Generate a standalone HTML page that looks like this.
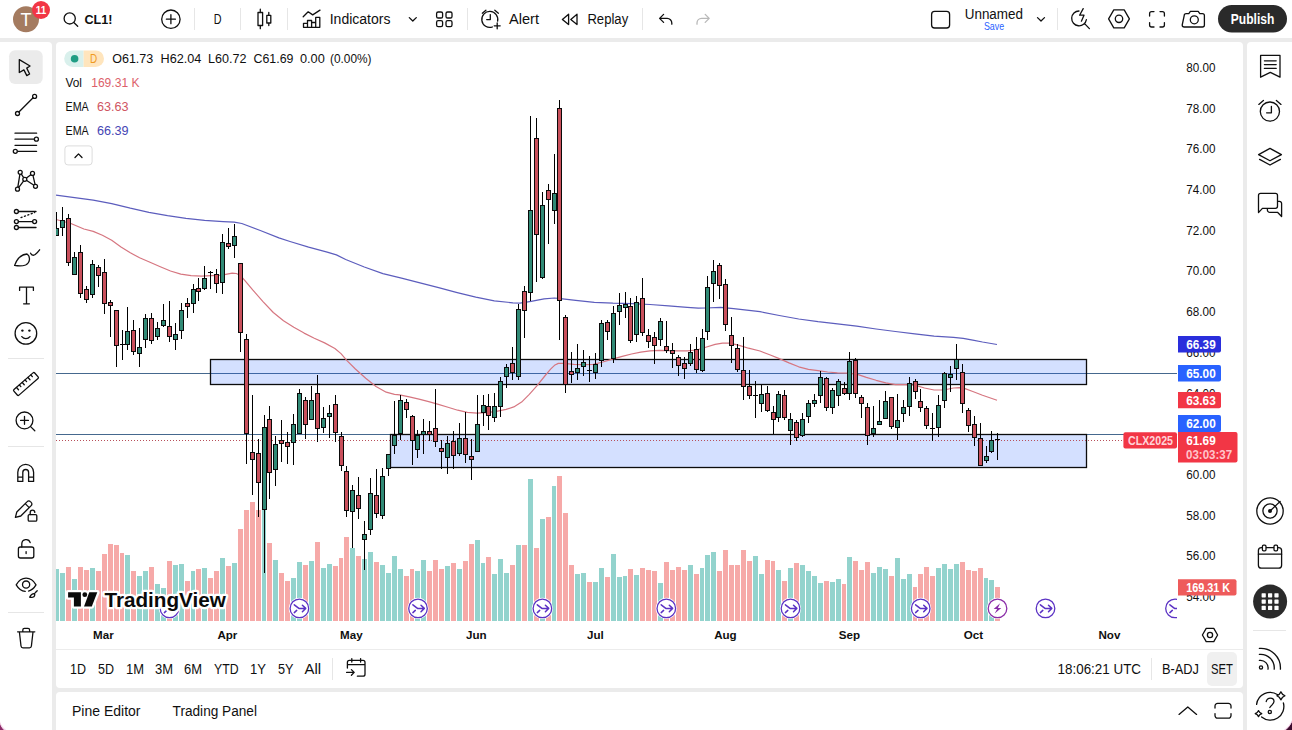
<!DOCTYPE html>
<html><head><meta charset="utf-8"><title>CL1! chart</title>
<style>
html,body{margin:0;padding:0;}
body{width:1292px;height:730px;overflow:hidden;background:#ebebeb;font-family:"Liberation Sans",sans-serif;}
svg{display:block;position:absolute;left:0;top:0;}
text{font-family:"Liberation Sans",sans-serif;fill:#0f0f0f;}
.ic{fill:none;stroke:#0f0f0f;stroke-width:1.3;stroke-linecap:round;stroke-linejoin:round;}
.sep{stroke:#e6e6e6;stroke-width:1;}
</style></head><body>
<svg width="1292" height="730" viewBox="0 0 1292 730">
<defs><clipPath id="cc"><rect x="56" y="42" width="1121" height="579"/></clipPath></defs>
<!-- panels -->
<rect x="0" y="0" width="1292" height="38" fill="#fff"/>
<path d="M0 42H48a4 4 0 0 1 4 4V730H0Z" fill="#fff"/>
<rect x="56" y="42" width="1187" height="646" rx="4" fill="#fff"/>
<path d="M56 730V696a4 4 0 0 1 4-4H1239a4 4 0 0 1 4 4V730Z" fill="#fff"/>
<path d="M1292 42H1251a4 4 0 0 0-4 4V730H1292Z" fill="#fff"/>
<g clip-path="url(#cc)" shape-rendering="crispEdges">
<rect x="54" y="569.0" width="5" height="52.0" fill="#93d3cd"/>
<rect x="60" y="573.0" width="5" height="48.0" fill="#93d3cd"/>
<rect x="66" y="567.1" width="5" height="53.9" fill="#f6a9a8"/>
<rect x="72" y="579.2" width="5" height="41.8" fill="#93d3cd"/>
<rect x="78" y="567.1" width="5" height="53.9" fill="#f6a9a8"/>
<rect x="84" y="570.0" width="5" height="51.0" fill="#f6a9a8"/>
<rect x="90" y="568.0" width="5" height="53.0" fill="#93d3cd"/>
<rect x="96" y="570.9" width="5" height="50.1" fill="#f6a9a8"/>
<rect x="102" y="553.9" width="5" height="67.1" fill="#f6a9a8"/>
<rect x="108" y="544.1" width="5" height="76.9" fill="#f6a9a8"/>
<rect x="114" y="545.0" width="5" height="76.0" fill="#f6a9a8"/>
<rect x="120" y="552.9" width="4" height="68.1" fill="#f6a9a8"/>
<rect x="125" y="555.2" width="5" height="65.8" fill="#93d3cd"/>
<rect x="131" y="570.9" width="5" height="50.1" fill="#f6a9a8"/>
<rect x="137" y="575.9" width="5" height="45.1" fill="#93d3cd"/>
<rect x="143" y="570.9" width="5" height="50.1" fill="#93d3cd"/>
<rect x="149" y="567.1" width="5" height="53.9" fill="#f6a9a8"/>
<rect x="155" y="584.0" width="5" height="37.0" fill="#93d3cd"/>
<rect x="161" y="588.0" width="5" height="33.0" fill="#93d3cd"/>
<rect x="167" y="561.0" width="5" height="60.0" fill="#f6a9a8"/>
<rect x="173" y="565.0" width="5" height="56.0" fill="#93d3cd"/>
<rect x="179" y="564.0" width="5" height="57.0" fill="#93d3cd"/>
<rect x="185" y="581.1" width="5" height="39.9" fill="#f6a9a8"/>
<rect x="191" y="570.9" width="4" height="50.1" fill="#93d3cd"/>
<rect x="196" y="569.0" width="5" height="52.0" fill="#f6a9a8"/>
<rect x="202" y="568.0" width="5" height="53.0" fill="#93d3cd"/>
<rect x="208" y="578.0" width="5" height="43.0" fill="#f6a9a8"/>
<rect x="214" y="570.9" width="5" height="50.1" fill="#f6a9a8"/>
<rect x="220" y="558.1" width="5" height="62.9" fill="#93d3cd"/>
<rect x="226" y="566.1" width="5" height="54.9" fill="#f6a9a8"/>
<rect x="232" y="563.1" width="5" height="57.9" fill="#93d3cd"/>
<rect x="238" y="528.9" width="5" height="92.1" fill="#f6a9a8"/>
<rect x="244" y="510.1" width="5" height="110.9" fill="#f6a9a8"/>
<rect x="250" y="502.0" width="5" height="119.0" fill="#f6a9a8"/>
<rect x="256" y="510.1" width="5" height="110.9" fill="#f6a9a8"/>
<rect x="262" y="507.5" width="4" height="113.5" fill="#93d3cd"/>
<rect x="267" y="542.9" width="5" height="78.1" fill="#f6a9a8"/>
<rect x="273" y="560.0" width="5" height="61.0" fill="#93d3cd"/>
<rect x="279" y="573.0" width="5" height="48.0" fill="#f6a9a8"/>
<rect x="285" y="581.0" width="5" height="40.0" fill="#f6a9a8"/>
<rect x="291" y="577.8" width="5" height="43.2" fill="#93d3cd"/>
<rect x="297" y="562.0" width="5" height="59.0" fill="#93d3cd"/>
<rect x="303" y="565.0" width="5" height="56.0" fill="#f6a9a8"/>
<rect x="309" y="561.0" width="5" height="60.0" fill="#93d3cd"/>
<rect x="315" y="541.7" width="5" height="79.3" fill="#f6a9a8"/>
<rect x="321" y="567.8" width="5" height="53.2" fill="#93d3cd"/>
<rect x="327" y="564.0" width="5" height="57.0" fill="#93d3cd"/>
<rect x="333" y="565.9" width="5" height="55.1" fill="#f6a9a8"/>
<rect x="339" y="557.7" width="4" height="63.3" fill="#f6a9a8"/>
<rect x="344" y="537.0" width="5" height="84.0" fill="#f6a9a8"/>
<rect x="350" y="548.0" width="5" height="73.0" fill="#93d3cd"/>
<rect x="356" y="556.1" width="5" height="64.9" fill="#f6a9a8"/>
<rect x="362" y="559.0" width="5" height="62.0" fill="#93d3cd"/>
<rect x="368" y="551.9" width="5" height="69.1" fill="#93d3cd"/>
<rect x="374" y="561.9" width="5" height="59.1" fill="#f6a9a8"/>
<rect x="380" y="565.0" width="5" height="56.0" fill="#93d3cd"/>
<rect x="386" y="573.0" width="5" height="48.0" fill="#93d3cd"/>
<rect x="392" y="556.1" width="5" height="64.9" fill="#93d3cd"/>
<rect x="398" y="569.2" width="5" height="51.8" fill="#93d3cd"/>
<rect x="404" y="575.9" width="5" height="45.1" fill="#f6a9a8"/>
<rect x="410" y="569.2" width="4" height="51.8" fill="#f6a9a8"/>
<rect x="415" y="571.0" width="5" height="50.0" fill="#93d3cd"/>
<rect x="421" y="560.2" width="5" height="60.8" fill="#93d3cd"/>
<rect x="427" y="570.8" width="5" height="50.2" fill="#f6a9a8"/>
<rect x="433" y="560.2" width="5" height="60.8" fill="#f6a9a8"/>
<rect x="439" y="569.2" width="5" height="51.8" fill="#f6a9a8"/>
<rect x="445" y="566.2" width="5" height="54.8" fill="#93d3cd"/>
<rect x="451" y="563.0" width="5" height="58.0" fill="#f6a9a8"/>
<rect x="457" y="569.2" width="5" height="51.8" fill="#93d3cd"/>
<rect x="463" y="560.9" width="5" height="60.1" fill="#f6a9a8"/>
<rect x="469" y="543.9" width="5" height="77.1" fill="#f6a9a8"/>
<rect x="475" y="540.1" width="5" height="80.9" fill="#93d3cd"/>
<rect x="481" y="563.0" width="4" height="58.0" fill="#93d3cd"/>
<rect x="486" y="557.0" width="5" height="64.0" fill="#f6a9a8"/>
<rect x="492" y="574.0" width="5" height="47.0" fill="#93d3cd"/>
<rect x="498" y="559.2" width="5" height="61.8" fill="#93d3cd"/>
<rect x="504" y="573.0" width="5" height="48.0" fill="#93d3cd"/>
<rect x="510" y="564.9" width="5" height="56.1" fill="#f6a9a8"/>
<rect x="516" y="544.9" width="5" height="76.1" fill="#93d3cd"/>
<rect x="522" y="544.9" width="5" height="76.1" fill="#f6a9a8"/>
<rect x="528" y="479.1" width="5" height="141.9" fill="#93d3cd"/>
<rect x="534" y="547.9" width="5" height="73.1" fill="#f6a9a8"/>
<rect x="540" y="519.3" width="5" height="101.7" fill="#93d3cd"/>
<rect x="546" y="517.1" width="5" height="103.9" fill="#f6a9a8"/>
<rect x="552" y="485.9" width="4" height="135.1" fill="#93d3cd"/>
<rect x="557" y="475.9" width="5" height="145.1" fill="#f6a9a8"/>
<rect x="563" y="513.1" width="5" height="107.9" fill="#f6a9a8"/>
<rect x="569" y="564.9" width="5" height="56.1" fill="#f6a9a8"/>
<rect x="575" y="574.0" width="5" height="47.0" fill="#93d3cd"/>
<rect x="581" y="573.0" width="5" height="48.0" fill="#93d3cd"/>
<rect x="587" y="582.1" width="5" height="38.9" fill="#f6a9a8"/>
<rect x="593" y="582.1" width="5" height="38.9" fill="#93d3cd"/>
<rect x="599" y="568.1" width="5" height="52.9" fill="#93d3cd"/>
<rect x="605" y="577.2" width="5" height="43.8" fill="#f6a9a8"/>
<rect x="611" y="554.3" width="5" height="66.7" fill="#93d3cd"/>
<rect x="617" y="577.2" width="5" height="43.8" fill="#93d3cd"/>
<rect x="623" y="576.2" width="4" height="44.8" fill="#93d3cd"/>
<rect x="628" y="569.2" width="5" height="51.8" fill="#f6a9a8"/>
<rect x="634" y="575.1" width="5" height="45.9" fill="#93d3cd"/>
<rect x="640" y="568.1" width="5" height="52.9" fill="#f6a9a8"/>
<rect x="646" y="570.2" width="5" height="50.8" fill="#f6a9a8"/>
<rect x="652" y="571.3" width="5" height="49.7" fill="#f6a9a8"/>
<rect x="658" y="583.2" width="5" height="37.8" fill="#93d3cd"/>
<rect x="664" y="561.9" width="5" height="59.1" fill="#f6a9a8"/>
<rect x="670" y="570.2" width="5" height="50.8" fill="#f6a9a8"/>
<rect x="676" y="567.0" width="5" height="54.0" fill="#f6a9a8"/>
<rect x="682" y="570.2" width="5" height="50.8" fill="#f6a9a8"/>
<rect x="688" y="565.1" width="5" height="55.9" fill="#93d3cd"/>
<rect x="694" y="574.0" width="5" height="47.0" fill="#f6a9a8"/>
<rect x="700" y="568.1" width="4" height="52.9" fill="#93d3cd"/>
<rect x="705" y="554.9" width="5" height="66.1" fill="#93d3cd"/>
<rect x="711" y="552.2" width="5" height="68.8" fill="#93d3cd"/>
<rect x="717" y="571.3" width="5" height="49.7" fill="#f6a9a8"/>
<rect x="723" y="550.0" width="5" height="71.0" fill="#f6a9a8"/>
<rect x="729" y="565.1" width="5" height="55.9" fill="#f6a9a8"/>
<rect x="735" y="565.1" width="5" height="55.9" fill="#f6a9a8"/>
<rect x="741" y="550.0" width="5" height="71.0" fill="#f6a9a8"/>
<rect x="747" y="561.3" width="5" height="59.7" fill="#f6a9a8"/>
<rect x="753" y="556.0" width="5" height="65.0" fill="#93d3cd"/>
<rect x="759" y="574.0" width="5" height="47.0" fill="#93d3cd"/>
<rect x="765" y="560.2" width="5" height="60.8" fill="#f6a9a8"/>
<rect x="771" y="561.3" width="4" height="59.7" fill="#f6a9a8"/>
<rect x="776" y="570.2" width="5" height="50.8" fill="#93d3cd"/>
<rect x="782" y="581.0" width="5" height="40.0" fill="#f6a9a8"/>
<rect x="788" y="568.1" width="5" height="52.9" fill="#93d3cd"/>
<rect x="794" y="563.0" width="5" height="58.0" fill="#f6a9a8"/>
<rect x="800" y="565.1" width="5" height="55.9" fill="#93d3cd"/>
<rect x="806" y="571.3" width="5" height="49.7" fill="#93d3cd"/>
<rect x="812" y="576.2" width="5" height="44.8" fill="#93d3cd"/>
<rect x="818" y="583.2" width="5" height="37.8" fill="#93d3cd"/>
<rect x="824" y="581.0" width="5" height="40.0" fill="#f6a9a8"/>
<rect x="830" y="582.1" width="5" height="38.9" fill="#93d3cd"/>
<rect x="836" y="579.1" width="5" height="41.9" fill="#93d3cd"/>
<rect x="842" y="584.2" width="4" height="36.8" fill="#f6a9a8"/>
<rect x="847" y="557.0" width="5" height="64.0" fill="#93d3cd"/>
<rect x="853" y="561.3" width="5" height="59.7" fill="#f6a9a8"/>
<rect x="859" y="570.2" width="5" height="50.8" fill="#f6a9a8"/>
<rect x="865" y="561.9" width="5" height="59.1" fill="#f6a9a8"/>
<rect x="871" y="573.2" width="5" height="47.8" fill="#93d3cd"/>
<rect x="877" y="567.0" width="5" height="54.0" fill="#93d3cd"/>
<rect x="883" y="569.2" width="5" height="51.8" fill="#93d3cd"/>
<rect x="889" y="576.2" width="5" height="44.8" fill="#f6a9a8"/>
<rect x="895" y="558.1" width="5" height="62.9" fill="#93d3cd"/>
<rect x="901" y="579.1" width="5" height="41.9" fill="#93d3cd"/>
<rect x="907" y="574.0" width="5" height="47.0" fill="#93d3cd"/>
<rect x="913" y="587.2" width="4" height="33.8" fill="#f6a9a8"/>
<rect x="918" y="574.0" width="5" height="47.0" fill="#f6a9a8"/>
<rect x="924" y="567.0" width="5" height="54.0" fill="#f6a9a8"/>
<rect x="930" y="576.2" width="5" height="44.8" fill="#f6a9a8"/>
<rect x="936" y="568.1" width="5" height="52.9" fill="#93d3cd"/>
<rect x="942" y="564.1" width="5" height="56.9" fill="#93d3cd"/>
<rect x="948" y="569.2" width="5" height="51.8" fill="#93d3cd"/>
<rect x="954" y="564.1" width="5" height="56.9" fill="#93d3cd"/>
<rect x="960" y="561.9" width="5" height="59.1" fill="#f6a9a8"/>
<rect x="966" y="570.2" width="5" height="50.8" fill="#f6a9a8"/>
<rect x="972" y="571.3" width="5" height="49.7" fill="#f6a9a8"/>
<rect x="978" y="568.1" width="5" height="52.9" fill="#f6a9a8"/>
<rect x="984" y="578.3" width="4" height="42.7" fill="#93d3cd"/>
<rect x="989" y="580.2" width="5" height="40.8" fill="#93d3cd"/>
<rect x="995" y="587.2" width="5" height="33.8" fill="#f6a9a8"/>
</g>
<g clip-path="url(#cc)">
<rect x="56" y="373" width="1122" height="1" fill="#45688e" shape-rendering="crispEdges"/>
<rect x="56" y="434" width="1122" height="1" fill="#45688e" shape-rendering="crispEdges"/>
<rect x="210.5" y="359.5" width="876" height="25" fill="#2962ff" fill-opacity="0.2" stroke="#0c0c0c" stroke-width="1.3"/>
<rect x="390.5" y="434.5" width="696" height="33" fill="#2962ff" fill-opacity="0.2" stroke="#0c0c0c" stroke-width="1.3"/>
<line x1="56" y1="440.5" x2="1124" y2="440.5" stroke="#b8505a" stroke-width="1" stroke-dasharray="1 2" shape-rendering="crispEdges"/>
<path d="M56.0,195.2 L74.6,197.6 L93.2,200.2 L111.7,203.6 L130.3,208.2 L148.9,212.3 L167.5,215.7 L186.0,218.4 L204.6,220.3 L223.2,221.6 L234.3,222.2 L241.8,223.5 L260.3,230.5 L278.9,237.9 L290.0,241.5 L308.6,247.1 L327.2,252.1 L336.4,254.9 L345.7,259.5 L364.3,267.0 L382.9,273.6 L401.5,278.1 L420.0,282.9 L438.6,287.6 L457.2,292.6 L475.8,297.2 L494.3,300.9 L512.9,302.8 L520.0,303.2 L531.1,301.3 L544.1,298.9 L554.4,298.0 L562.7,298.9 L575.7,300.4 L594.3,302.3 L612.9,303.2 L631.5,303.6 L650.0,304.5 L668.6,305.8 L687.2,307.3 L698.3,308.2 L705.8,308.0 L720.6,307.3 L733.6,308.6 L760.0,311.7 L779.3,315.5 L798.7,319.0 L818.0,321.7 L837.4,323.8 L856.7,326.1 L876.1,329.0 L895.4,331.5 L914.8,333.9 L934.1,336.2 L953.5,337.3 L963.2,338.3 L972.8,340.1 L982.5,342.0 L997.0,344.5" fill="none" stroke="#5c5dbd" stroke-width="1.2" stroke-linejoin="round"/>
<path d="M56.0,219.5 L70.9,223.5 L83.9,229.0 L93.2,231.4 L102.4,235.2 L111.7,240.2 L121.0,246.9 L130.3,252.8 L139.6,257.8 L150.0,262.2 L160.3,266.7 L170.5,271.0 L180.8,274.1 L191.1,275.7 L201.4,276.2 L211.6,275.7 L221.9,275.1 L232.2,273.1 L236.3,273.5 L240.4,275.5 L244.5,280.1 L252.7,289.9 L263.0,301.6 L273.3,312.5 L283.5,320.7 L293.8,327.3 L304.1,333.1 L314.3,338.2 L324.6,342.9 L334.9,348.5 L341.0,353.6 L347.2,360.8 L355.4,369.0 L365.7,378.3 L376.0,386.5 L386.2,392.2 L394.5,394.3 L399.7,394.9 L409.3,396.9 L419.0,399.2 L428.7,401.7 L438.4,404.4 L448.0,407.3 L457.7,410.2 L467.4,412.3 L477.1,413.1 L486.7,412.7 L496.4,411.4 L506.1,409.4 L513.8,406.9 L521.6,402.1 L529.3,394.3 L537.1,385.6 L544.8,376.0 L550.6,369.2 L554.5,365.3 L558.3,363.4 L564.1,363.4 L573.8,364.3 L583.5,364.7 L593.2,364.4 L602.8,362.0 L612.5,359.1 L622.2,356.3 L631.5,354.0 L640.8,352.2 L650.0,350.9 L659.3,350.4 L668.6,350.6 L677.9,350.9 L687.2,350.9 L696.5,350.0 L705.8,347.2 L715.1,344.4 L722.5,343.1 L729.9,343.1 L739.2,345.4 L748.5,348.2 L760.0,351.0 L769.7,354.8 L779.3,358.6 L789.0,362.9 L798.7,366.8 L808.4,369.3 L818.0,370.6 L827.7,372.0 L837.4,372.9 L847.1,373.1 L856.7,374.1 L866.4,377.4 L876.1,380.3 L885.8,382.8 L895.4,384.6 L905.1,384.6 L914.8,385.1 L924.5,388.0 L934.1,390.0 L943.8,390.0 L953.5,388.0 L959.3,387.7 L965.1,388.6 L972.8,391.5 L982.5,395.2 L997.0,400.2" fill="none" stroke="#d67680" stroke-width="1.2" stroke-linejoin="round"/>
</g>
<g clip-path="url(#cc)" shape-rendering="crispEdges">
<rect x="56" y="212" width="1" height="24" fill="#000"/>
<rect x="54" y="228" width="5" height="8" fill="#0a0a0a"/>
<rect x="55" y="229" width="3" height="6" fill="#318a76"/>
<rect x="62" y="207" width="1" height="29" fill="#000"/>
<rect x="60" y="220" width="5" height="8" fill="#0a0a0a"/>
<rect x="61" y="221" width="3" height="6" fill="#318a76"/>
<rect x="68" y="214" width="1" height="52" fill="#000"/>
<rect x="66" y="218" width="5" height="45" fill="#0a0a0a"/>
<rect x="67" y="219" width="3" height="43" fill="#c9505c"/>
<rect x="74" y="252" width="1" height="23" fill="#000"/>
<rect x="72" y="257" width="5" height="18" fill="#0a0a0a"/>
<rect x="73" y="258" width="3" height="16" fill="#318a76"/>
<rect x="80" y="245" width="1" height="53" fill="#000"/>
<rect x="78" y="252" width="5" height="42" fill="#0a0a0a"/>
<rect x="79" y="253" width="3" height="40" fill="#c9505c"/>
<rect x="86" y="286" width="1" height="17" fill="#000"/>
<rect x="84" y="289" width="5" height="11" fill="#0a0a0a"/>
<rect x="85" y="290" width="3" height="9" fill="#c9505c"/>
<rect x="92" y="260" width="1" height="38" fill="#000"/>
<rect x="90" y="264" width="5" height="31" fill="#0a0a0a"/>
<rect x="91" y="265" width="3" height="29" fill="#318a76"/>
<rect x="98" y="265" width="1" height="22" fill="#000"/>
<rect x="96" y="267" width="5" height="9" fill="#0a0a0a"/>
<rect x="97" y="268" width="3" height="7" fill="#c9505c"/>
<rect x="104" y="259" width="1" height="55" fill="#000"/>
<rect x="102" y="272" width="5" height="32" fill="#0a0a0a"/>
<rect x="103" y="273" width="3" height="30" fill="#c9505c"/>
<rect x="110" y="300" width="1" height="37" fill="#000"/>
<rect x="108" y="302" width="5" height="4" fill="#0a0a0a"/>
<rect x="109" y="303" width="3" height="2" fill="#c9505c"/>
<rect x="116" y="310" width="1" height="57" fill="#000"/>
<rect x="114" y="310" width="5" height="36" fill="#0a0a0a"/>
<rect x="115" y="311" width="3" height="34" fill="#c9505c"/>
<rect x="122" y="330" width="1" height="30" fill="#000"/>
<rect x="120" y="344" width="5" height="1" fill="#000"/>
<rect x="127" y="307" width="1" height="43" fill="#000"/>
<rect x="125" y="331" width="5" height="14" fill="#0a0a0a"/>
<rect x="126" y="332" width="3" height="12" fill="#318a76"/>
<rect x="133" y="320" width="1" height="35" fill="#000"/>
<rect x="131" y="330" width="5" height="22" fill="#0a0a0a"/>
<rect x="132" y="331" width="3" height="20" fill="#c9505c"/>
<rect x="139" y="328" width="1" height="39" fill="#000"/>
<rect x="137" y="347" width="5" height="7" fill="#0a0a0a"/>
<rect x="138" y="348" width="3" height="5" fill="#318a76"/>
<rect x="145" y="314" width="1" height="34" fill="#000"/>
<rect x="143" y="318" width="5" height="22" fill="#0a0a0a"/>
<rect x="144" y="319" width="3" height="20" fill="#318a76"/>
<rect x="151" y="313" width="1" height="31" fill="#000"/>
<rect x="149" y="318" width="5" height="23" fill="#0a0a0a"/>
<rect x="150" y="319" width="3" height="21" fill="#c9505c"/>
<rect x="157" y="322" width="1" height="18" fill="#000"/>
<rect x="155" y="328" width="5" height="9" fill="#0a0a0a"/>
<rect x="156" y="329" width="3" height="7" fill="#318a76"/>
<rect x="163" y="304" width="1" height="23" fill="#000"/>
<rect x="161" y="320" width="5" height="6" fill="#0a0a0a"/>
<rect x="162" y="321" width="3" height="4" fill="#318a76"/>
<rect x="169" y="301" width="1" height="41" fill="#000"/>
<rect x="167" y="326" width="5" height="11" fill="#0a0a0a"/>
<rect x="168" y="327" width="3" height="9" fill="#c9505c"/>
<rect x="175" y="323" width="1" height="27" fill="#000"/>
<rect x="173" y="334" width="5" height="6" fill="#0a0a0a"/>
<rect x="174" y="335" width="3" height="4" fill="#318a76"/>
<rect x="181" y="303" width="1" height="36" fill="#000"/>
<rect x="179" y="310" width="5" height="21" fill="#0a0a0a"/>
<rect x="180" y="311" width="3" height="19" fill="#318a76"/>
<rect x="187" y="298" width="1" height="20" fill="#000"/>
<rect x="185" y="303" width="5" height="4" fill="#0a0a0a"/>
<rect x="186" y="304" width="3" height="2" fill="#c9505c"/>
<rect x="193" y="284" width="1" height="29" fill="#000"/>
<rect x="191" y="289" width="5" height="15" fill="#0a0a0a"/>
<rect x="192" y="290" width="3" height="13" fill="#318a76"/>
<rect x="198" y="278" width="1" height="23" fill="#000"/>
<rect x="196" y="288" width="5" height="4" fill="#0a0a0a"/>
<rect x="197" y="289" width="3" height="2" fill="#c9505c"/>
<rect x="204" y="266" width="1" height="24" fill="#000"/>
<rect x="202" y="278" width="5" height="11" fill="#0a0a0a"/>
<rect x="203" y="279" width="3" height="9" fill="#318a76"/>
<rect x="210" y="271" width="1" height="18" fill="#000"/>
<rect x="208" y="272" width="5" height="1" fill="#000"/>
<rect x="216" y="269" width="1" height="24" fill="#000"/>
<rect x="214" y="274" width="5" height="10" fill="#0a0a0a"/>
<rect x="215" y="275" width="3" height="8" fill="#c9505c"/>
<rect x="222" y="234" width="1" height="60" fill="#000"/>
<rect x="220" y="242" width="5" height="41" fill="#0a0a0a"/>
<rect x="221" y="243" width="3" height="39" fill="#318a76"/>
<rect x="228" y="228" width="1" height="21" fill="#000"/>
<rect x="226" y="243" width="5" height="4" fill="#0a0a0a"/>
<rect x="227" y="244" width="3" height="2" fill="#c9505c"/>
<rect x="234" y="224" width="1" height="34" fill="#000"/>
<rect x="232" y="236" width="5" height="10" fill="#0a0a0a"/>
<rect x="233" y="237" width="3" height="8" fill="#318a76"/>
<rect x="240" y="263" width="1" height="89" fill="#000"/>
<rect x="238" y="263" width="5" height="70" fill="#0a0a0a"/>
<rect x="239" y="264" width="3" height="68" fill="#c9505c"/>
<rect x="246" y="334" width="1" height="130" fill="#000"/>
<rect x="244" y="339" width="5" height="95" fill="#0a0a0a"/>
<rect x="245" y="340" width="3" height="93" fill="#c9505c"/>
<rect x="252" y="395" width="1" height="100" fill="#000"/>
<rect x="250" y="452" width="5" height="8" fill="#0a0a0a"/>
<rect x="251" y="453" width="3" height="6" fill="#c9505c"/>
<rect x="258" y="439" width="1" height="78" fill="#000"/>
<rect x="256" y="453" width="5" height="30" fill="#0a0a0a"/>
<rect x="257" y="454" width="3" height="28" fill="#c9505c"/>
<rect x="264" y="415" width="1" height="158" fill="#000"/>
<rect x="262" y="427" width="5" height="83" fill="#0a0a0a"/>
<rect x="263" y="428" width="3" height="81" fill="#318a76"/>
<rect x="269" y="406" width="1" height="93" fill="#000"/>
<rect x="267" y="419" width="5" height="54" fill="#0a0a0a"/>
<rect x="268" y="420" width="3" height="52" fill="#c9505c"/>
<rect x="275" y="436" width="1" height="50" fill="#000"/>
<rect x="273" y="444" width="5" height="26" fill="#0a0a0a"/>
<rect x="274" y="445" width="3" height="24" fill="#318a76"/>
<rect x="281" y="420" width="1" height="42" fill="#000"/>
<rect x="279" y="440" width="5" height="4" fill="#0a0a0a"/>
<rect x="280" y="441" width="3" height="2" fill="#c9505c"/>
<rect x="287" y="432" width="1" height="32" fill="#000"/>
<rect x="285" y="442" width="5" height="5" fill="#0a0a0a"/>
<rect x="286" y="443" width="3" height="3" fill="#c9505c"/>
<rect x="293" y="414" width="1" height="51" fill="#000"/>
<rect x="291" y="424" width="5" height="19" fill="#0a0a0a"/>
<rect x="292" y="425" width="3" height="17" fill="#318a76"/>
<rect x="299" y="389" width="1" height="45" fill="#000"/>
<rect x="297" y="393" width="5" height="41" fill="#0a0a0a"/>
<rect x="298" y="394" width="3" height="39" fill="#318a76"/>
<rect x="305" y="397" width="1" height="42" fill="#000"/>
<rect x="303" y="400" width="5" height="25" fill="#0a0a0a"/>
<rect x="304" y="401" width="3" height="23" fill="#c9505c"/>
<rect x="311" y="386" width="1" height="34" fill="#000"/>
<rect x="309" y="400" width="5" height="20" fill="#0a0a0a"/>
<rect x="310" y="401" width="3" height="18" fill="#318a76"/>
<rect x="317" y="375" width="1" height="67" fill="#000"/>
<rect x="315" y="393" width="5" height="36" fill="#0a0a0a"/>
<rect x="316" y="394" width="3" height="34" fill="#c9505c"/>
<rect x="323" y="407" width="1" height="26" fill="#000"/>
<rect x="321" y="418" width="5" height="10" fill="#0a0a0a"/>
<rect x="322" y="419" width="3" height="8" fill="#318a76"/>
<rect x="329" y="405" width="1" height="33" fill="#000"/>
<rect x="327" y="413" width="5" height="4" fill="#0a0a0a"/>
<rect x="328" y="414" width="3" height="2" fill="#318a76"/>
<rect x="335" y="395" width="1" height="47" fill="#000"/>
<rect x="333" y="404" width="5" height="29" fill="#0a0a0a"/>
<rect x="334" y="405" width="3" height="27" fill="#c9505c"/>
<rect x="341" y="432" width="1" height="39" fill="#000"/>
<rect x="339" y="436" width="5" height="30" fill="#0a0a0a"/>
<rect x="340" y="437" width="3" height="28" fill="#c9505c"/>
<rect x="346" y="466" width="1" height="51" fill="#000"/>
<rect x="344" y="471" width="5" height="40" fill="#0a0a0a"/>
<rect x="345" y="472" width="3" height="38" fill="#c9505c"/>
<rect x="352" y="485" width="1" height="63" fill="#000"/>
<rect x="350" y="490" width="5" height="22" fill="#0a0a0a"/>
<rect x="351" y="491" width="3" height="20" fill="#318a76"/>
<rect x="358" y="477" width="1" height="42" fill="#000"/>
<rect x="356" y="495" width="5" height="14" fill="#0a0a0a"/>
<rect x="357" y="496" width="3" height="12" fill="#c9505c"/>
<rect x="364" y="521" width="1" height="49" fill="#000"/>
<rect x="362" y="534" width="5" height="6" fill="#0a0a0a"/>
<rect x="363" y="535" width="3" height="4" fill="#318a76"/>
<rect x="370" y="478" width="1" height="57" fill="#000"/>
<rect x="368" y="493" width="5" height="37" fill="#0a0a0a"/>
<rect x="369" y="494" width="3" height="35" fill="#318a76"/>
<rect x="376" y="469" width="1" height="49" fill="#000"/>
<rect x="374" y="495" width="5" height="19" fill="#0a0a0a"/>
<rect x="375" y="496" width="3" height="17" fill="#c9505c"/>
<rect x="382" y="468" width="1" height="51" fill="#000"/>
<rect x="380" y="476" width="5" height="40" fill="#0a0a0a"/>
<rect x="381" y="477" width="3" height="38" fill="#318a76"/>
<rect x="388" y="454" width="1" height="22" fill="#000"/>
<rect x="386" y="454" width="5" height="15" fill="#0a0a0a"/>
<rect x="387" y="455" width="3" height="13" fill="#318a76"/>
<rect x="394" y="401" width="1" height="53" fill="#000"/>
<rect x="392" y="435" width="5" height="11" fill="#0a0a0a"/>
<rect x="393" y="436" width="3" height="9" fill="#318a76"/>
<rect x="400" y="395" width="1" height="45" fill="#000"/>
<rect x="398" y="400" width="5" height="34" fill="#0a0a0a"/>
<rect x="399" y="401" width="3" height="32" fill="#318a76"/>
<rect x="406" y="399" width="1" height="19" fill="#000"/>
<rect x="404" y="402" width="5" height="8" fill="#0a0a0a"/>
<rect x="405" y="403" width="3" height="6" fill="#c9505c"/>
<rect x="412" y="415" width="1" height="50" fill="#000"/>
<rect x="410" y="416" width="5" height="25" fill="#0a0a0a"/>
<rect x="411" y="417" width="3" height="23" fill="#c9505c"/>
<rect x="417" y="430" width="1" height="28" fill="#000"/>
<rect x="415" y="435" width="5" height="15" fill="#0a0a0a"/>
<rect x="416" y="436" width="3" height="13" fill="#318a76"/>
<rect x="423" y="419" width="1" height="35" fill="#000"/>
<rect x="421" y="431" width="5" height="4" fill="#0a0a0a"/>
<rect x="422" y="432" width="3" height="2" fill="#318a76"/>
<rect x="429" y="421" width="1" height="20" fill="#000"/>
<rect x="427" y="431" width="5" height="4" fill="#0a0a0a"/>
<rect x="428" y="432" width="3" height="2" fill="#c9505c"/>
<rect x="435" y="389" width="1" height="58" fill="#000"/>
<rect x="433" y="428" width="5" height="14" fill="#0a0a0a"/>
<rect x="434" y="429" width="3" height="12" fill="#c9505c"/>
<rect x="441" y="440" width="1" height="29" fill="#000"/>
<rect x="439" y="448" width="5" height="4" fill="#0a0a0a"/>
<rect x="440" y="449" width="3" height="2" fill="#c9505c"/>
<rect x="447" y="436" width="1" height="38" fill="#000"/>
<rect x="445" y="443" width="5" height="15" fill="#0a0a0a"/>
<rect x="446" y="444" width="3" height="13" fill="#318a76"/>
<rect x="453" y="431" width="1" height="38" fill="#000"/>
<rect x="451" y="441" width="5" height="15" fill="#0a0a0a"/>
<rect x="452" y="442" width="3" height="13" fill="#c9505c"/>
<rect x="459" y="423" width="1" height="33" fill="#000"/>
<rect x="457" y="438" width="5" height="16" fill="#0a0a0a"/>
<rect x="458" y="439" width="3" height="14" fill="#318a76"/>
<rect x="465" y="412" width="1" height="51" fill="#000"/>
<rect x="463" y="438" width="5" height="17" fill="#0a0a0a"/>
<rect x="464" y="439" width="3" height="15" fill="#c9505c"/>
<rect x="471" y="439" width="1" height="41" fill="#000"/>
<rect x="469" y="456" width="5" height="4" fill="#0a0a0a"/>
<rect x="470" y="457" width="3" height="2" fill="#c9505c"/>
<rect x="477" y="395" width="1" height="57" fill="#000"/>
<rect x="475" y="424" width="5" height="28" fill="#0a0a0a"/>
<rect x="476" y="425" width="3" height="26" fill="#318a76"/>
<rect x="483" y="395" width="1" height="31" fill="#000"/>
<rect x="481" y="405" width="5" height="8" fill="#0a0a0a"/>
<rect x="482" y="406" width="3" height="6" fill="#318a76"/>
<rect x="488" y="394" width="1" height="36" fill="#000"/>
<rect x="486" y="406" width="5" height="10" fill="#0a0a0a"/>
<rect x="487" y="407" width="3" height="8" fill="#c9505c"/>
<rect x="494" y="393" width="1" height="29" fill="#000"/>
<rect x="492" y="406" width="5" height="12" fill="#0a0a0a"/>
<rect x="493" y="407" width="3" height="10" fill="#318a76"/>
<rect x="500" y="377" width="1" height="40" fill="#000"/>
<rect x="498" y="381" width="5" height="26" fill="#0a0a0a"/>
<rect x="499" y="382" width="3" height="24" fill="#318a76"/>
<rect x="506" y="364" width="1" height="24" fill="#000"/>
<rect x="504" y="367" width="5" height="10" fill="#0a0a0a"/>
<rect x="505" y="368" width="3" height="8" fill="#318a76"/>
<rect x="512" y="347" width="1" height="33" fill="#000"/>
<rect x="510" y="363" width="5" height="10" fill="#0a0a0a"/>
<rect x="511" y="364" width="3" height="8" fill="#c9505c"/>
<rect x="518" y="304" width="1" height="76" fill="#000"/>
<rect x="516" y="309" width="5" height="68" fill="#0a0a0a"/>
<rect x="517" y="310" width="3" height="66" fill="#318a76"/>
<rect x="524" y="286" width="1" height="52" fill="#000"/>
<rect x="522" y="291" width="5" height="20" fill="#0a0a0a"/>
<rect x="523" y="292" width="3" height="18" fill="#c9505c"/>
<rect x="530" y="116" width="1" height="185" fill="#000"/>
<rect x="528" y="210" width="5" height="83" fill="#0a0a0a"/>
<rect x="529" y="211" width="3" height="81" fill="#318a76"/>
<rect x="536" y="118" width="1" height="164" fill="#000"/>
<rect x="534" y="138" width="5" height="97" fill="#0a0a0a"/>
<rect x="535" y="139" width="3" height="95" fill="#c9505c"/>
<rect x="542" y="192" width="1" height="87" fill="#000"/>
<rect x="540" y="205" width="5" height="73" fill="#0a0a0a"/>
<rect x="541" y="206" width="3" height="71" fill="#318a76"/>
<rect x="548" y="184" width="1" height="60" fill="#000"/>
<rect x="546" y="190" width="5" height="10" fill="#0a0a0a"/>
<rect x="547" y="191" width="3" height="8" fill="#c9505c"/>
<rect x="554" y="154" width="1" height="70" fill="#000"/>
<rect x="552" y="193" width="5" height="18" fill="#0a0a0a"/>
<rect x="553" y="194" width="3" height="16" fill="#318a76"/>
<rect x="559" y="100" width="1" height="240" fill="#000"/>
<rect x="557" y="108" width="5" height="193" fill="#0a0a0a"/>
<rect x="558" y="109" width="3" height="191" fill="#c9505c"/>
<rect x="565" y="315" width="1" height="78" fill="#000"/>
<rect x="563" y="317" width="5" height="68" fill="#0a0a0a"/>
<rect x="564" y="318" width="3" height="66" fill="#c9505c"/>
<rect x="571" y="352" width="1" height="31" fill="#000"/>
<rect x="569" y="371" width="5" height="4" fill="#0a0a0a"/>
<rect x="570" y="372" width="3" height="2" fill="#c9505c"/>
<rect x="577" y="344" width="1" height="36" fill="#000"/>
<rect x="575" y="368" width="5" height="5" fill="#0a0a0a"/>
<rect x="576" y="369" width="3" height="3" fill="#318a76"/>
<rect x="583" y="350" width="1" height="26" fill="#000"/>
<rect x="581" y="362" width="5" height="5" fill="#0a0a0a"/>
<rect x="582" y="363" width="3" height="3" fill="#318a76"/>
<rect x="589" y="356" width="1" height="26" fill="#000"/>
<rect x="587" y="370" width="5" height="1" fill="#000"/>
<rect x="595" y="353" width="1" height="26" fill="#000"/>
<rect x="593" y="364" width="5" height="9" fill="#0a0a0a"/>
<rect x="594" y="365" width="3" height="7" fill="#318a76"/>
<rect x="601" y="320" width="1" height="47" fill="#000"/>
<rect x="599" y="323" width="5" height="38" fill="#0a0a0a"/>
<rect x="600" y="324" width="3" height="36" fill="#318a76"/>
<rect x="607" y="320" width="1" height="20" fill="#000"/>
<rect x="605" y="322" width="5" height="10" fill="#0a0a0a"/>
<rect x="606" y="323" width="3" height="8" fill="#c9505c"/>
<rect x="613" y="306" width="1" height="57" fill="#000"/>
<rect x="611" y="313" width="5" height="46" fill="#0a0a0a"/>
<rect x="612" y="314" width="3" height="44" fill="#318a76"/>
<rect x="619" y="293" width="1" height="32" fill="#000"/>
<rect x="617" y="305" width="5" height="7" fill="#0a0a0a"/>
<rect x="618" y="306" width="3" height="5" fill="#318a76"/>
<rect x="625" y="292" width="1" height="26" fill="#000"/>
<rect x="623" y="304" width="5" height="4" fill="#0a0a0a"/>
<rect x="624" y="305" width="3" height="2" fill="#318a76"/>
<rect x="630" y="298" width="1" height="45" fill="#000"/>
<rect x="628" y="306" width="5" height="35" fill="#0a0a0a"/>
<rect x="629" y="307" width="3" height="33" fill="#c9505c"/>
<rect x="636" y="296" width="1" height="46" fill="#000"/>
<rect x="634" y="302" width="5" height="33" fill="#0a0a0a"/>
<rect x="635" y="303" width="3" height="31" fill="#318a76"/>
<rect x="642" y="278" width="1" height="58" fill="#000"/>
<rect x="640" y="298" width="5" height="35" fill="#0a0a0a"/>
<rect x="641" y="299" width="3" height="33" fill="#c9505c"/>
<rect x="648" y="329" width="1" height="19" fill="#000"/>
<rect x="646" y="335" width="5" height="7" fill="#0a0a0a"/>
<rect x="647" y="336" width="3" height="5" fill="#c9505c"/>
<rect x="654" y="332" width="1" height="32" fill="#000"/>
<rect x="652" y="337" width="5" height="9" fill="#0a0a0a"/>
<rect x="653" y="338" width="3" height="7" fill="#c9505c"/>
<rect x="660" y="318" width="1" height="28" fill="#000"/>
<rect x="658" y="321" width="5" height="19" fill="#0a0a0a"/>
<rect x="659" y="322" width="3" height="17" fill="#318a76"/>
<rect x="666" y="321" width="1" height="32" fill="#000"/>
<rect x="664" y="346" width="5" height="5" fill="#0a0a0a"/>
<rect x="665" y="347" width="3" height="3" fill="#c9505c"/>
<rect x="672" y="343" width="1" height="25" fill="#000"/>
<rect x="670" y="350" width="5" height="4" fill="#0a0a0a"/>
<rect x="671" y="351" width="3" height="2" fill="#c9505c"/>
<rect x="678" y="355" width="1" height="21" fill="#000"/>
<rect x="676" y="357" width="5" height="9" fill="#0a0a0a"/>
<rect x="677" y="358" width="3" height="7" fill="#c9505c"/>
<rect x="684" y="357" width="1" height="22" fill="#000"/>
<rect x="682" y="363" width="5" height="6" fill="#0a0a0a"/>
<rect x="683" y="364" width="3" height="4" fill="#c9505c"/>
<rect x="690" y="344" width="1" height="22" fill="#000"/>
<rect x="688" y="352" width="5" height="12" fill="#0a0a0a"/>
<rect x="689" y="353" width="3" height="10" fill="#318a76"/>
<rect x="696" y="337" width="1" height="36" fill="#000"/>
<rect x="694" y="349" width="5" height="21" fill="#0a0a0a"/>
<rect x="695" y="350" width="3" height="19" fill="#c9505c"/>
<rect x="702" y="329" width="1" height="43" fill="#000"/>
<rect x="700" y="338" width="5" height="33" fill="#0a0a0a"/>
<rect x="701" y="339" width="3" height="31" fill="#318a76"/>
<rect x="707" y="276" width="1" height="64" fill="#000"/>
<rect x="705" y="287" width="5" height="45" fill="#0a0a0a"/>
<rect x="706" y="288" width="3" height="43" fill="#318a76"/>
<rect x="713" y="260" width="1" height="42" fill="#000"/>
<rect x="711" y="271" width="5" height="13" fill="#0a0a0a"/>
<rect x="712" y="272" width="3" height="11" fill="#318a76"/>
<rect x="719" y="263" width="1" height="36" fill="#000"/>
<rect x="717" y="265" width="5" height="21" fill="#0a0a0a"/>
<rect x="718" y="266" width="3" height="19" fill="#c9505c"/>
<rect x="725" y="279" width="1" height="52" fill="#000"/>
<rect x="723" y="284" width="5" height="41" fill="#0a0a0a"/>
<rect x="724" y="285" width="3" height="39" fill="#c9505c"/>
<rect x="731" y="317" width="1" height="46" fill="#000"/>
<rect x="729" y="335" width="5" height="11" fill="#0a0a0a"/>
<rect x="730" y="336" width="3" height="9" fill="#c9505c"/>
<rect x="737" y="344" width="1" height="28" fill="#000"/>
<rect x="735" y="348" width="5" height="22" fill="#0a0a0a"/>
<rect x="736" y="349" width="3" height="20" fill="#c9505c"/>
<rect x="743" y="337" width="1" height="63" fill="#000"/>
<rect x="741" y="370" width="5" height="17" fill="#0a0a0a"/>
<rect x="742" y="371" width="3" height="15" fill="#c9505c"/>
<rect x="749" y="370" width="1" height="29" fill="#000"/>
<rect x="747" y="386" width="5" height="10" fill="#0a0a0a"/>
<rect x="748" y="387" width="3" height="8" fill="#c9505c"/>
<rect x="755" y="381" width="1" height="37" fill="#000"/>
<rect x="753" y="395" width="5" height="1" fill="#000"/>
<rect x="761" y="385" width="1" height="27" fill="#000"/>
<rect x="759" y="394" width="5" height="10" fill="#0a0a0a"/>
<rect x="760" y="395" width="3" height="8" fill="#318a76"/>
<rect x="767" y="386" width="1" height="26" fill="#000"/>
<rect x="765" y="393" width="5" height="18" fill="#0a0a0a"/>
<rect x="766" y="394" width="3" height="16" fill="#c9505c"/>
<rect x="773" y="406" width="1" height="28" fill="#000"/>
<rect x="771" y="412" width="5" height="8" fill="#0a0a0a"/>
<rect x="772" y="413" width="3" height="6" fill="#c9505c"/>
<rect x="778" y="391" width="1" height="31" fill="#000"/>
<rect x="776" y="394" width="5" height="24" fill="#0a0a0a"/>
<rect x="777" y="395" width="3" height="22" fill="#318a76"/>
<rect x="784" y="390" width="1" height="30" fill="#000"/>
<rect x="782" y="395" width="5" height="23" fill="#0a0a0a"/>
<rect x="783" y="396" width="3" height="21" fill="#c9505c"/>
<rect x="790" y="413" width="1" height="32" fill="#000"/>
<rect x="788" y="419" width="5" height="12" fill="#0a0a0a"/>
<rect x="789" y="420" width="3" height="10" fill="#318a76"/>
<rect x="796" y="420" width="1" height="21" fill="#000"/>
<rect x="794" y="422" width="5" height="16" fill="#0a0a0a"/>
<rect x="795" y="423" width="3" height="14" fill="#c9505c"/>
<rect x="802" y="413" width="1" height="24" fill="#000"/>
<rect x="800" y="419" width="5" height="17" fill="#0a0a0a"/>
<rect x="801" y="420" width="3" height="15" fill="#318a76"/>
<rect x="808" y="400" width="1" height="23" fill="#000"/>
<rect x="806" y="403" width="5" height="14" fill="#0a0a0a"/>
<rect x="807" y="404" width="3" height="12" fill="#318a76"/>
<rect x="814" y="394" width="1" height="13" fill="#000"/>
<rect x="812" y="400" width="5" height="4" fill="#0a0a0a"/>
<rect x="813" y="401" width="3" height="2" fill="#318a76"/>
<rect x="820" y="371" width="1" height="32" fill="#000"/>
<rect x="818" y="377" width="5" height="19" fill="#0a0a0a"/>
<rect x="819" y="378" width="3" height="17" fill="#318a76"/>
<rect x="826" y="377" width="1" height="34" fill="#000"/>
<rect x="824" y="378" width="5" height="30" fill="#0a0a0a"/>
<rect x="825" y="379" width="3" height="28" fill="#c9505c"/>
<rect x="832" y="388" width="1" height="26" fill="#000"/>
<rect x="830" y="390" width="5" height="18" fill="#0a0a0a"/>
<rect x="831" y="391" width="3" height="16" fill="#318a76"/>
<rect x="838" y="379" width="1" height="27" fill="#000"/>
<rect x="836" y="381" width="5" height="15" fill="#0a0a0a"/>
<rect x="837" y="382" width="3" height="13" fill="#318a76"/>
<rect x="844" y="382" width="1" height="13" fill="#000"/>
<rect x="842" y="388" width="5" height="6" fill="#0a0a0a"/>
<rect x="843" y="389" width="3" height="4" fill="#c9505c"/>
<rect x="849" y="352" width="1" height="48" fill="#000"/>
<rect x="847" y="361" width="5" height="33" fill="#0a0a0a"/>
<rect x="848" y="362" width="3" height="31" fill="#318a76"/>
<rect x="855" y="358" width="1" height="40" fill="#000"/>
<rect x="853" y="360" width="5" height="34" fill="#0a0a0a"/>
<rect x="854" y="361" width="3" height="32" fill="#c9505c"/>
<rect x="861" y="395" width="1" height="23" fill="#000"/>
<rect x="859" y="397" width="5" height="7" fill="#0a0a0a"/>
<rect x="860" y="398" width="3" height="5" fill="#c9505c"/>
<rect x="867" y="403" width="1" height="42" fill="#000"/>
<rect x="865" y="407" width="5" height="29" fill="#0a0a0a"/>
<rect x="866" y="408" width="3" height="27" fill="#c9505c"/>
<rect x="873" y="406" width="1" height="31" fill="#000"/>
<rect x="871" y="428" width="5" height="6" fill="#0a0a0a"/>
<rect x="872" y="429" width="3" height="4" fill="#318a76"/>
<rect x="879" y="400" width="1" height="25" fill="#000"/>
<rect x="877" y="421" width="5" height="4" fill="#0a0a0a"/>
<rect x="878" y="422" width="3" height="2" fill="#318a76"/>
<rect x="885" y="391" width="1" height="28" fill="#000"/>
<rect x="883" y="401" width="5" height="18" fill="#0a0a0a"/>
<rect x="884" y="402" width="3" height="16" fill="#318a76"/>
<rect x="891" y="397" width="1" height="32" fill="#000"/>
<rect x="889" y="397" width="5" height="30" fill="#0a0a0a"/>
<rect x="890" y="398" width="3" height="28" fill="#c9505c"/>
<rect x="897" y="394" width="1" height="46" fill="#000"/>
<rect x="895" y="420" width="5" height="8" fill="#0a0a0a"/>
<rect x="896" y="421" width="3" height="6" fill="#318a76"/>
<rect x="903" y="400" width="1" height="22" fill="#000"/>
<rect x="901" y="407" width="5" height="7" fill="#0a0a0a"/>
<rect x="902" y="408" width="3" height="5" fill="#318a76"/>
<rect x="909" y="377" width="1" height="39" fill="#000"/>
<rect x="907" y="383" width="5" height="24" fill="#0a0a0a"/>
<rect x="908" y="384" width="3" height="22" fill="#318a76"/>
<rect x="915" y="379" width="1" height="20" fill="#000"/>
<rect x="913" y="381" width="5" height="11" fill="#0a0a0a"/>
<rect x="914" y="382" width="3" height="9" fill="#c9505c"/>
<rect x="920" y="389" width="1" height="23" fill="#000"/>
<rect x="918" y="401" width="5" height="7" fill="#0a0a0a"/>
<rect x="919" y="402" width="3" height="5" fill="#c9505c"/>
<rect x="926" y="406" width="1" height="23" fill="#000"/>
<rect x="924" y="408" width="5" height="18" fill="#0a0a0a"/>
<rect x="925" y="409" width="3" height="16" fill="#c9505c"/>
<rect x="932" y="413" width="1" height="28" fill="#000"/>
<rect x="930" y="428" width="5" height="1" fill="#000"/>
<rect x="938" y="395" width="1" height="42" fill="#000"/>
<rect x="936" y="405" width="5" height="23" fill="#0a0a0a"/>
<rect x="937" y="406" width="3" height="21" fill="#318a76"/>
<rect x="944" y="372" width="1" height="36" fill="#000"/>
<rect x="942" y="373" width="5" height="28" fill="#0a0a0a"/>
<rect x="943" y="374" width="3" height="26" fill="#318a76"/>
<rect x="950" y="366" width="1" height="26" fill="#000"/>
<rect x="948" y="374" width="5" height="4" fill="#0a0a0a"/>
<rect x="949" y="375" width="3" height="2" fill="#318a76"/>
<rect x="956" y="344" width="1" height="36" fill="#000"/>
<rect x="954" y="359" width="5" height="10" fill="#0a0a0a"/>
<rect x="955" y="360" width="3" height="8" fill="#318a76"/>
<rect x="962" y="364" width="1" height="49" fill="#000"/>
<rect x="960" y="372" width="5" height="32" fill="#0a0a0a"/>
<rect x="961" y="373" width="3" height="30" fill="#c9505c"/>
<rect x="968" y="408" width="1" height="24" fill="#000"/>
<rect x="966" y="410" width="5" height="16" fill="#0a0a0a"/>
<rect x="967" y="411" width="3" height="14" fill="#c9505c"/>
<rect x="974" y="416" width="1" height="30" fill="#000"/>
<rect x="972" y="424" width="5" height="14" fill="#0a0a0a"/>
<rect x="973" y="425" width="3" height="12" fill="#c9505c"/>
<rect x="980" y="423" width="1" height="43" fill="#000"/>
<rect x="978" y="438" width="5" height="28" fill="#0a0a0a"/>
<rect x="979" y="439" width="3" height="26" fill="#c9505c"/>
<rect x="986" y="446" width="1" height="17" fill="#000"/>
<rect x="984" y="456" width="5" height="5" fill="#0a0a0a"/>
<rect x="985" y="457" width="3" height="3" fill="#318a76"/>
<rect x="991" y="431" width="1" height="22" fill="#000"/>
<rect x="989" y="440" width="5" height="12" fill="#0a0a0a"/>
<rect x="990" y="441" width="3" height="10" fill="#318a76"/>
<rect x="997" y="433" width="1" height="27" fill="#000"/>
<rect x="995" y="439" width="5" height="1" fill="#000"/>
</g>
<text x="1186.2" y="71.7" font-size="12" textLength="29.2" lengthAdjust="spacingAndGlyphs">80.00</text>
<text x="1186.2" y="112.7" font-size="12" textLength="29.2" lengthAdjust="spacingAndGlyphs">78.00</text>
<text x="1186.2" y="152.7" font-size="12" textLength="29.2" lengthAdjust="spacingAndGlyphs">76.00</text>
<text x="1186.2" y="193.7" font-size="12" textLength="29.2" lengthAdjust="spacingAndGlyphs">74.00</text>
<text x="1186.2" y="234.7" font-size="12" textLength="29.2" lengthAdjust="spacingAndGlyphs">72.00</text>
<text x="1186.2" y="274.7" font-size="12" textLength="29.2" lengthAdjust="spacingAndGlyphs">70.00</text>
<text x="1186.2" y="315.7" font-size="12" textLength="29.2" lengthAdjust="spacingAndGlyphs">68.00</text>
<text x="1186.2" y="356.7" font-size="12" textLength="29.2" lengthAdjust="spacingAndGlyphs">66.00</text>
<text x="1186.2" y="397.7" font-size="12" textLength="29.2" lengthAdjust="spacingAndGlyphs">64.00</text>
<text x="1186.2" y="437.7" font-size="12" textLength="29.2" lengthAdjust="spacingAndGlyphs">62.00</text>
<text x="1186.2" y="478.7" font-size="12" textLength="29.2" lengthAdjust="spacingAndGlyphs">60.00</text>
<text x="1186.2" y="519.7" font-size="12" textLength="29.2" lengthAdjust="spacingAndGlyphs">58.00</text>
<text x="1186.2" y="559.7" font-size="12" textLength="29.2" lengthAdjust="spacingAndGlyphs">56.00</text>
<text x="1186.2" y="600.7" font-size="12" textLength="29.2" lengthAdjust="spacingAndGlyphs">54.00</text>
<path d="M1178 336H1219a2 2 0 0 1 2 2V350.5a2 2 0 0 1-2 2H1178Z" fill="#2a2edc"/>
<text x="1186.2" y="348.6" font-size="12" font-weight="bold" fill="#fff" textLength="29.5" lengthAdjust="spacingAndGlyphs" style="fill:#fff">66.39</text>
<path d="M1178 365H1219a2 2 0 0 1 2 2V379.5a2 2 0 0 1-2 2H1178Z" fill="#2962ff"/>
<text x="1186.2" y="377.6" font-size="12" font-weight="bold" fill="#fff" textLength="29.5" lengthAdjust="spacingAndGlyphs" style="fill:#fff">65.00</text>
<path d="M1178 392H1219a2 2 0 0 1 2 2V406.3a2 2 0 0 1-2 2H1178Z" fill="#f23645"/>
<text x="1186.2" y="404.5" font-size="12" font-weight="bold" fill="#fff" textLength="29.5" lengthAdjust="spacingAndGlyphs" style="fill:#fff">63.63</text>
<path d="M1178 415H1219a2 2 0 0 1 2 2V430a2 2 0 0 1-2 2H1178Z" fill="#2962ff"/>
<text x="1186.2" y="427.9" font-size="12" font-weight="bold" fill="#fff" textLength="29.5" lengthAdjust="spacingAndGlyphs" style="fill:#fff">62.00</text>
<path d="M1178 432H1235.5a2 2 0 0 1 2 2V460.5a2 2 0 0 1-2 2H1178Z" fill="#f23645"/>
<text x="1186.2" y="444.8" font-size="12" font-weight="bold" style="fill:#fff" textLength="29.5" lengthAdjust="spacingAndGlyphs">61.69</text>
<text x="1186" y="458.500" font-size="12" font-weight="bold" style="fill:#ffc4ca" textLength="46.200" lengthAdjust="spacingAndGlyphs">03:03:37</text>
<rect x="1123.4" y="432.2" width="53.6" height="16.2" rx="2" fill="#f23645"/>
<text x="1128" y="444.600" font-size="12" font-weight="bold" style="fill:#ffd3d8" textLength="45" lengthAdjust="spacingAndGlyphs">CLX2025</text>
<path d="M1178 579.3H1234.5a2 2 0 0 1 2 2V593.6a2 2 0 0 1-2 2H1178Z" fill="#ee5b5b"/>
<text x="1186.2" y="591.9" font-size="12" font-weight="bold" style="fill:#fff" textLength="44" lengthAdjust="spacingAndGlyphs">169.31 K</text>
<text x="103.4" y="638.6" font-size="11.600" font-weight="bold" text-anchor="middle">Mar</text>
<text x="227.4" y="638.6" font-size="11.600" font-weight="bold" text-anchor="middle">Apr</text>
<text x="351.4" y="638.6" font-size="11.600" font-weight="bold" text-anchor="middle">May</text>
<text x="476.4" y="638.6" font-size="11.600" font-weight="bold" text-anchor="middle">Jun</text>
<text x="595.4" y="638.6" font-size="11.600" font-weight="bold" text-anchor="middle">Jul</text>
<text x="725.4" y="638.6" font-size="11.600" font-weight="bold" text-anchor="middle">Aug</text>
<text x="849.4" y="638.6" font-size="11.600" font-weight="bold" text-anchor="middle">Sep</text>
<text x="973.4" y="638.6" font-size="11.600" font-weight="bold" text-anchor="middle">Oct</text>
<text x="1109.4" y="638.6" font-size="11.600" font-weight="bold" text-anchor="middle">Nov</text>
<path class="ic" d="M1206.2 628.4h7.6l3.8 6.6-3.8 6.6h-7.6l-3.8-6.6z" stroke-width="1.2"/><circle class="ic" cx="1210" cy="635" r="2.6" stroke-width="1.2"/>
<path d="M72.5 50.4H83.6V67H72.5a8.3 8.3 0 0 1 0-16.6Z" fill="#d9f0ec"/>
<path d="M83.6 50.4H95.7a8.3 8.3 0 0 1 0 16.6H83.6Z" fill="#ffe5bd"/>
<circle cx="74.6" cy="58.7" r="3.8" fill="#1f9d84"/>
<text x="90" y="63.2" font-size="12.5" style="fill:#ef9a1f" textLength="7.2" lengthAdjust="spacingAndGlyphs">D</text>
<text x="112.2" y="63.2" font-size="13" textLength="41.1" lengthAdjust="spacingAndGlyphs">O61.73</text>
<text x="160.5" y="63.2" font-size="13" textLength="40.8" lengthAdjust="spacingAndGlyphs">H62.04</text>
<text x="208" y="63.2" font-size="13" textLength="38.5" lengthAdjust="spacingAndGlyphs">L60.72</text>
<text x="253.5" y="63.2" font-size="13" textLength="39.9" lengthAdjust="spacingAndGlyphs">C61.69</text>
<text x="300" y="63.2" font-size="13" textLength="24.8" lengthAdjust="spacingAndGlyphs">0.00</text>
<text x="330" y="63.2" font-size="13" textLength="41.5" lengthAdjust="spacingAndGlyphs">(0.00%)</text>
<text x="65.5" y="86.9" font-size="13" textLength="16.5" lengthAdjust="spacingAndGlyphs">Vol</text>
<text x="91.2" y="86.9" font-size="13" style="fill:#dc5f6b" textLength="48.3" lengthAdjust="spacingAndGlyphs">169.31 K</text>
<text x="65.5" y="110.9" font-size="13" textLength="23.2" lengthAdjust="spacingAndGlyphs">EMA</text>
<text x="96.9" y="110.9" font-size="13" style="fill:#cf5562" textLength="31.6" lengthAdjust="spacingAndGlyphs">63.63</text>
<text x="65.5" y="134.7" font-size="13" textLength="23.2" lengthAdjust="spacingAndGlyphs">EMA</text>
<text x="96.9" y="134.7" font-size="13" style="fill:#4545b4" textLength="31.6" lengthAdjust="spacingAndGlyphs">66.39</text>
<rect x="64.9" y="145.9" width="27.2" height="19" rx="3" fill="#fff" stroke="#dcdcdc"/>
<path class="ic" d="M75 157.5l3.5-3.6 3.5 3.6" stroke-width="1.5"/>
<!-- top toolbar -->
<circle cx="26" cy="19.2" r="13" fill="#a47b60"/>
<text x="26" y="25.6" font-size="18" text-anchor="middle" style="fill:#fff">T</text>
<circle cx="41" cy="10" r="9" fill="#f23645"/>
<text x="41" y="13.800" font-size="10.500" font-weight="bold" text-anchor="middle" style="fill:#fff" textLength="10.5" lengthAdjust="spacingAndGlyphs">11</text>
<circle class="ic" cx="69.7" cy="18.4" r="5.6" stroke-width="1.6"/><path class="ic" d="M73.8 22.6l3.9 3.6" stroke-width="1.6"/>
<text x="84.5" y="23.5" font-size="13.5" font-weight="bold" textLength="28" lengthAdjust="spacingAndGlyphs">CL1!</text>
<circle class="ic" cx="170.9" cy="19.2" r="9.2"/><path class="ic" d="M166.4 19.2h9M170.9 14.7v9"/>
<line class="sep" x1="194.5" y1="8" x2="194.5" y2="30"/>
<text x="213.8" y="24" font-size="14" textLength="7.8" lengthAdjust="spacingAndGlyphs">D</text>
<line class="sep" x1="240.5" y1="8" x2="240.5" y2="30"/>
<path class="ic" d="M258 12.5h4.6v13H258zM260.3 9.2v3.3M260.3 25.5v3.2M266.8 15.4h4v7.6h-4zM268.8 12.4v3M268.8 23v2.6" stroke-width="1.2"/>
<line class="sep" x1="287.5" y1="8" x2="287.5" y2="30"/>
<path class="ic" d="M303.200 16.700l5-4.900 4.500 3.100 7.300-4.800" stroke-width="1.300"/>
<path class="ic" d="M303.500 27.300v-4h4v4M307.500 27.300v-6.800h4.100v6.800M311.600 27.300v-4.800h4.100v4.800M315.700 27.300v-9.900h4.100v9.900zM303.500 27.300h16.300" stroke-width="1.300" stroke-linejoin="miter"/>
<text x="329.7" y="24" font-size="14" textLength="60.8" lengthAdjust="spacingAndGlyphs">Indicators</text>
<path class="ic" d="M409.3 17.6l3.5 3.4 3.5-3.4" stroke-width="1.2"/>
<rect class="ic" x="436.6" y="12" width="6" height="6" rx="1.6" stroke-width="1.2"/><rect class="ic" x="446" y="12" width="6" height="6" rx="1.6" stroke-width="1.2"/><rect class="ic" x="436.6" y="20.6" width="6" height="6" rx="1.6" stroke-width="1.2"/><rect class="ic" x="446" y="20.6" width="6" height="6" rx="1.6" stroke-width="1.2"/>
<line class="sep" x1="467.5" y1="8" x2="467.5" y2="30"/>
<path class="ic" d="M497.6 21.2a8 8 0 1 0-5.2 5.8M490.3 14.6v5h-3.6M482.3 13.2l3.6-3M494.8 10.2l3.6 3M497.2 22.8v6M494.2 25.8h6" stroke-width="1.2"/>
<text x="509" y="24" font-size="14" textLength="30" lengthAdjust="spacingAndGlyphs">Alert</text>
<path class="ic" d="M568.6 14.2v10.4l-6.2-5.2zM577 14.2v10.4l-6.2-5.2z" stroke-width="1.2"/>
<text x="587.4" y="24" font-size="14" textLength="40.8" lengthAdjust="spacingAndGlyphs">Replay</text>
<line class="sep" x1="642.5" y1="8" x2="642.5" y2="30"/>
<path class="ic" d="M663.6 14.4l-4 4 4 4M659.8 18.4h7.4a4.6 4.6 0 0 1 4.6 4.6v1.2" stroke-width="1.3"/>
<path class="ic" d="M705.2 14.4l4 4-4 4M709 18.4h-7.4a4.6 4.6 0 0 0-4.6 4.6v1.2" stroke-width="1.3" style="stroke:#b8b8b8"/>
<rect class="ic" x="931.6" y="11.4" width="18" height="16.6" rx="3"/>
<text x="964.7" y="19.2" font-size="14" textLength="58.3" lengthAdjust="spacingAndGlyphs">Unnamed</text>
<text x="983.9" y="29.8" font-size="11" style="fill:#2962ff" textLength="20.2" lengthAdjust="spacingAndGlyphs">Save</text>
<path class="ic" d="M1037.5 17.6l3.5 3.4 3.5-3.4" stroke-width="1.2"/>
<line class="sep" x1="1057.5" y1="8" x2="1057.5" y2="30"/>
<path class="ic" d="M1079 11a7.4 7.4 0 1 0 7.4 8.6M1084.6 23.6l4.8 5M1083.2 8.6l-3.6 6.6h4.4l-2.6 6" stroke-width="1.2"/>
<path class="ic" d="M1113.8 9.8h10.4l5.2 9-5.2 9h-10.4l-5.2-9z"/><circle class="ic" cx="1119" cy="18.8" r="3.7"/>
<path class="ic" d="M1149.6 16v-2.4a2 2 0 0 1 2-2h2.4M1160 11.6h2.4a2 2 0 0 1 2 2V16M1164.4 22.6V25a2 2 0 0 1-2 2H1160M1154 27h-2.4a2 2 0 0 1-2-2v-2.4" stroke-width="1.4"/>
<path class="ic" d="M1184.2 15.6a2 2 0 0 1 2-2h2.6l1.6-2.2h7.8l1.6 2.2h2.6a2 2 0 0 1 2 2V25a2 2 0 0 1-2 2h-18.2a2 2 0 0 1-2-2z"/><circle class="ic" cx="1194.3" cy="19.8" r="4"/>
<rect x="1218" y="5" width="69" height="27.6" rx="13.8" fill="#2a2a2a"/>
<text x="1230.8" y="23.6" font-size="14" font-weight="bold" style="fill:#fff" textLength="43.5" lengthAdjust="spacingAndGlyphs">Publish</text>
<!-- left toolbar -->
<rect x="9.100" y="50.200" width="33.600" height="33.800" rx="6" fill="#ebebeb"/>
<path class="ic" d="M19.300 59.600v12.900l4.600-2.600 2.900 5.700 2.800-1.600-2.850-5.900 3.300-2.100z" stroke-width="1.300" stroke-linejoin="miter"/>
<path class="ic" d="M18.9 112l14.2-14.2" stroke-width="1.2"/><circle class="ic" cx="34.6" cy="96.4" r="2" stroke-width="1.2"/><circle class="ic" cx="17.5" cy="113.5" r="2" stroke-width="1.2"/>
<path class="ic" d="M15 133.2h21.6M15 139.2h19.4M15 145.3h21.6M17.4 151.3h19.2" stroke-width="1.2"/><circle class="ic" cx="36.4" cy="139.2" r="2" stroke-width="1.2" fill="#fff" style="fill:#fff"/><circle class="ic" cx="15.3" cy="151.3" r="2" stroke-width="1.2" style="fill:#fff"/>
<path class="ic" d="M20.2 172.3l-2.7 16.9 7.3-9.9zM24.8 179.3l7.7-5.9 3 12.9zM20.2 172.3l4.6 7M17.5 189.2l7.3-9.9 10.7 7" stroke-width="1.1"/>
<g style="fill:#fff"><circle class="ic" cx="20.2" cy="172.3" r="2" stroke-width="1.1" style="fill:#fff"/><circle class="ic" cx="32.5" cy="173.4" r="2" stroke-width="1.1" style="fill:#fff"/><circle class="ic" cx="24.8" cy="179.3" r="2" stroke-width="1.1" style="fill:#fff"/><circle class="ic" cx="35.5" cy="186.3" r="2" stroke-width="1.1" style="fill:#fff"/><circle class="ic" cx="17.5" cy="189.2" r="2" stroke-width="1.1" style="fill:#fff"/></g>
<path class="ic" d="M18.4 211.5h17.6M18.4 221.6h14.2M18.4 227.5h17.6" stroke-width="1.2"/><path class="ic" d="M21 217.6l13.6-5" stroke-width="1.1" stroke-dasharray="1.2 2.4"/>
<circle class="ic" cx="16.4" cy="211.5" r="2" stroke-width="1.1"/><circle class="ic" cx="16.4" cy="221.6" r="2" stroke-width="1.1"/><circle class="ic" cx="34.6" cy="221.6" r="2" stroke-width="1.1"/><circle class="ic" cx="16.4" cy="227.5" r="2" stroke-width="1.1"/>
<path class="ic" d="M14.6 265.4c2.6-7.4 7-11 12.4-11.4 3.6 2.4 3.4 8.6-1.4 11-3.4 1.2-7.6 1-11 .4zM30.6 253.2c1 2.2 3 2.6 4.6 1.4 1.6-1.2 3-3 4.4-4.8" stroke-width="1.2"/>
<path class="ic" d="M19.6 290.4v-3.2h13.8v3.2M26.5 287.2v16.6M23.6 303.8h5.8" stroke-width="1.2"/>
<circle class="ic" cx="25.9" cy="333.4" r="10.8" stroke-width="1.2"/><circle cx="22.4" cy="330.6" r="1.2" fill="#0f0f0f"/><circle cx="29.4" cy="330.6" r="1.2" fill="#0f0f0f"/><path class="ic" d="M21.8 336.6c2.2 2.6 6 2.6 8.200 0" stroke-width="1.2"/>
<line class="sep" x1="8" y1="358.5" x2="44" y2="358.5"/>
<g transform="rotate(-41 26 384)"><rect class="ic" x="12.2" y="380.2" width="27.6" height="7.6" rx="1.2" stroke-width="1.2"/><path class="ic" d="M16.6 380.4v3M20.4 380.4v2.2M24.2 380.4v3M28 380.4v2.2M31.800 380.400v3M35.6 380.4v2.2" stroke-width="1"/></g>
<circle class="ic" cx="24.5" cy="420.4" r="8.4" stroke-width="1.2"/><path class="ic" d="M30.6 426.600l4.2 4.200M20.600 420.400h7.800M24.500 416.500v7.800" stroke-width="1.2"/>
<line class="sep" x1="8" y1="446.500" x2="44" y2="446.500"/>
<path class="ic" d="M17.800 481.400v-9.200a7.900 7.900 0 0 1 15.800 0v9.200h-5v-9a2.900 2.900 0 0 0-5.800 0v9zM17.800 477.200h5M28.600 477.200h5" stroke-width="1.2"/>
<path class="ic" d="M15.400 517.400l1.400-5.400 10.400-10.400a2.200 2.200 0 0 1 3.200 0l.8.800a2.200 2.200 0 0 1 0 3.200l-10.400 10.400zM25.200 503.600l4 4" stroke-width="1.2"/>
<rect class="ic" x="28.200" y="514.600" width="8.600" height="6.600" rx="1.200" stroke-width="1.200" style="fill:#fff"/><path class="ic" d="M30.200 514.600v-2.200a2.300 2.300 0 0 1 4.600 0" stroke-width="1.200"/>
<rect class="ic" x="18.400" y="547" width="15.400" height="11" rx="2" stroke-width="1.200"/><path class="ic" d="M21.800 547v-3.200a4.300 4.300 0 0 1 8.400-1.200M26.100 551.600v2" stroke-width="1.200"/>
<path class="ic" d="M16.200 584.800c5.200-8.800 14.600-8.800 19.800 0-2 3.400-4.600 5.400-7.400 6.200M16.200 584.800c2.400 4 5.600 6.200 9 6.600" stroke-width="1.200"/><circle class="ic" cx="26.100" cy="584.600" r="3.600" stroke-width="1.200"/>
<path class="ic" d="M29.600 597.200c1.400-2.800 3-3.800 4.800-3.600.8 1.400.2 3-1.600 3.600-1 .2-2.200.2-3.200 0zM35.200 592.800l2-2" stroke-width="1"/>
<line class="sep" x1="8" y1="612.500" x2="44" y2="612.500"/>
<path class="ic" d="M17.600 631.800h17.200M22.800 631.600v-1.600a1.600 1.600 0 0 1 1.600-1.600h3.600a1.600 1.600 0 0 1 1.600 1.600v1.600M19.400 632l1.600 14a2 2 0 0 0 2 1.800h6.400a2 2 0 0 0 2-1.800l1.600-14" stroke-width="1.200"/>
<!-- right toolbar -->
<path class="ic" d="M1260.6 55.400h19.400v21.800l-9.700-4.800-9.700 4.800zM1264.400 60.800h11.800M1264.400 64.600h11.800M1264.400 68.400h11.800" stroke-width="1.200"/>
<circle class="ic" cx="1269.900" cy="111.600" r="9.600" stroke-width="1.200"/><path class="ic" d="M1271.400 106.400v6.400h-4.800M1258.800 104.400l4.600-4M1281 104.400l-4.600-4" stroke-width="1.200"/>
<path class="ic" d="M1270 148.400l11.400 6.200-11.400 6.200-11.400-6.200zM1259.600 159.400l10.400 5.600 10.400-5.600" stroke-width="1.200"/>
<path class="ic" d="M1258.500 212.600v-17.200a2.100 2.100 0 0 1 2.100-2.100h14.800a2.100 2.100 0 0 1 2.100 2.100v10.900a2.100 2.100 0 0 1-2.100 2.100h-13zM1277.500 201.400h2a2.100 2.100 0 0 1 2.100 2.100v13l-4.100-4.200h-7.700a2.400 2.400 0 0 1-2.400-2.400v-1.500" stroke-width="1.200"/>
<circle class="ic" cx="1270" cy="511" r="13.200" stroke-width="1.200"/><circle class="ic" cx="1270" cy="511" r="7.100" stroke-width="1.200"/><circle cx="1270" cy="511" r="2" fill="#0f0f0f"/><path class="ic" d="M1270 511l10.200-9.600" stroke-width="1.200"/>
<rect class="ic" x="1258.400" y="547.600" width="23.200" height="20.600" rx="3" stroke-width="1.200"/><path class="ic" d="M1258.400 554.200h23.200" stroke-width="1.200"/><rect class="ic" x="1262.400" y="545.200" width="3.600" height="5.600" rx="1.200" stroke-width="1.100" style="fill:#fff"/><rect class="ic" x="1274" y="545.200" width="3.600" height="5.600" rx="1.200" stroke-width="1.100" style="fill:#fff"/>
<circle cx="1270.100" cy="601.600" r="17" fill="#2a2a2a"/>
<g fill="#fff"><rect x="1261.600" y="593.200" width="4.200" height="4.200" rx=".6"/><rect x="1268" y="593.200" width="4.200" height="4.200" rx=".6"/><rect x="1274.400" y="593.200" width="4.200" height="4.200" rx=".6"/><rect x="1261.600" y="599.500" width="4.200" height="4.200" rx=".6"/><rect x="1268" y="599.500" width="4.200" height="4.200" rx=".6"/><rect x="1274.400" y="599.500" width="4.200" height="4.200" rx=".6"/><rect x="1261.600" y="605.800" width="4.200" height="4.200" rx=".6"/><rect x="1268" y="605.800" width="4.200" height="4.200" rx=".6"/><rect x="1274.400" y="605.800" width="4.200" height="4.200" rx=".6"/></g>
<line class="sep" x1="1253" y1="630.500" x2="1286" y2="630.500"/>
<circle class="ic" cx="1261" cy="667.400" r="1.600" stroke-width="1.100"/><path class="ic" d="M1259.400 660.400a7.600 7.600 0 0 1 8.600 8.800M1259.400 654.400a13.600 13.600 0 0 1 14.800 14.800M1259.400 648.400a19.600 19.600 0 0 1 21 20.800" stroke-width="1.200"/>
<path class="ic" d="M1277.800 694.800a13.600 13.600 0 0 0-21.200 9.600M1283.400 703a13.600 13.600 0 0 1-21.800 14" stroke-width="1.200"/>
<path class="ic" d="M1266.200 701.500c.6-2.200 2.400-3.300 4.200-3.300 2.200 0 3.600 1.600 3.600 3.400 0 2.400-2.600 3.400-4.200 5.900" stroke-width="1.300"/><circle class="ic" cx="1269.800" cy="711.900" r="1.600" stroke-width="1.100"/>
<path class="ic" d="M1280.900 691.800l1.700 2.600 2.300 1.400-2.300 1.400-1.700 2.600-1.700-2.600-2.300-1.400 2.300-1.400zM1258.500 710.600l1.300 1.900 1.900 1.100-1.900 1.100-1.300 1.900-1.300-1.900-1.900-1.100 1.900-1.100z" stroke-width="1"/>
<path d="M1292 721.500v8.500h-6.500c2.800-2.200 5-5 6.500-8.500z" fill="#3c0b2e"/><path d="M1292 720.300v1.800c-1.500 3.300-3.700 6-6.300 7.900h-1.700c3.400-2.200 6.200-5.400 8-9.700z" fill="#f2c4e2"/>
<path d="M0 723c.6 2.800 2 5.200 4.200 7H0z" fill="#8d2b68"/><path d="M0 721.600v1.600c.7 2.700 2.100 5 4.200 6.800h2c-3-1.900-5.300-4.700-6.200-8.400z" fill="#f4d3ea"/>
<!-- bottom range bar -->
<line x1="56" y1="649.500" x2="1243" y2="649.500" stroke="#ececec"/>
<text x="70" y="673.800" font-size="14" textLength="16" lengthAdjust="spacingAndGlyphs">1D</text>
<text x="98" y="673.800" font-size="14" textLength="16" lengthAdjust="spacingAndGlyphs">5D</text>
<text x="126" y="673.800" font-size="14" textLength="18" lengthAdjust="spacingAndGlyphs">1M</text>
<text x="155" y="673.800" font-size="14" textLength="18" lengthAdjust="spacingAndGlyphs">3M</text>
<text x="184" y="673.800" font-size="14" textLength="18" lengthAdjust="spacingAndGlyphs">6M</text>
<text x="214" y="673.800" font-size="14" textLength="24.500" lengthAdjust="spacingAndGlyphs">YTD</text>
<text x="250" y="673.800" font-size="14" textLength="16" lengthAdjust="spacingAndGlyphs">1Y</text>
<text x="278" y="673.800" font-size="14" textLength="15.500" lengthAdjust="spacingAndGlyphs">5Y</text>
<text x="304.500" y="673.800" font-size="14" textLength="16.500" lengthAdjust="spacingAndGlyphs">All</text>
<line class="sep" x1="332.500" y1="658" x2="332.500" y2="680"/>
<path class="ic" d="M347.400 668v-5.600a2 2 0 0 1 2-2h13.600a2 2 0 0 1 2 2v11.800a2 2 0 0 1-2 2h-5.600M347.400 664.600h17.600M351.800 658.600v3.400M360.600 658.600v3.400M346.600 672.400h7.400M351.400 669.600l2.800 2.800-2.800 2.800" stroke-width="1.200"/>
<text x="1057.600" y="673.800" font-size="14" textLength="83.400" lengthAdjust="spacingAndGlyphs">18:06:21 UTC</text>
<line class="sep" x1="1151.500" y1="658" x2="1151.500" y2="680"/>
<text x="1162" y="673.800" font-size="14" textLength="37" lengthAdjust="spacingAndGlyphs">B-ADJ</text>
<rect x="1207" y="652" width="30" height="34" rx="5" fill="#f0f0f0"/>
<text x="1211" y="673.800" font-size="14" textLength="22" lengthAdjust="spacingAndGlyphs">SET</text>
<!-- bottom panel -->
<text x="72" y="716" font-size="14" textLength="68.500" lengthAdjust="spacingAndGlyphs">Pine Editor</text>
<text x="172.600" y="716" font-size="14" textLength="84.400" lengthAdjust="spacingAndGlyphs">Trading Panel</text>
<path class="ic" d="M1179 714.400l8.800-7.400 8.800 7.400" stroke-width="1.300"/>
<path class="ic" d="M1215 708v-2a2.600 2.600 0 0 1 2.600-2.600h10.800a2.600 2.600 0 0 1 2.600 2.600v2M1231 713.600v2a2.600 2.600 0 0 1-2.600 2.600h-10.800a2.600 2.600 0 0 1-2.600-2.600v-2" stroke-width="1.400"/>
<g clip-path="url(#cc)">
<circle cx="169.5" cy="608.4" r="10.6" fill="#fff"/>
<circle cx="169.5" cy="608.4" r="9.3" fill="#fff" stroke="#5b32c4" stroke-width="1.3"/>
<path d="M164.4 604.8l4.6 3.6h6.6M172.5 605.1999999999999l3.3 3.2-3.3 3.3M164.4 612.6l2.4-2.2" fill="none" stroke="#5b32c4" stroke-width="1.5" stroke-linecap="round" stroke-linejoin="round"/>
<circle cx="299.4" cy="608.4" r="10.6" fill="#fff"/>
<circle cx="299.4" cy="608.4" r="9.3" fill="#fff" stroke="#5b32c4" stroke-width="1.3"/>
<path d="M294.29999999999995 604.8l4.6 3.6h6.6M302.4 605.1999999999999l3.3 3.2-3.3 3.3M294.29999999999995 612.6l2.4-2.2" fill="none" stroke="#5b32c4" stroke-width="1.5" stroke-linecap="round" stroke-linejoin="round"/>
<circle cx="418" cy="608.4" r="10.6" fill="#fff"/>
<circle cx="418" cy="608.4" r="9.3" fill="#fff" stroke="#5b32c4" stroke-width="1.3"/>
<path d="M412.9 604.8l4.6 3.6h6.6M421 605.1999999999999l3.3 3.2-3.3 3.3M412.9 612.6l2.4-2.2" fill="none" stroke="#5b32c4" stroke-width="1.5" stroke-linecap="round" stroke-linejoin="round"/>
<circle cx="542.4" cy="608.4" r="10.6" fill="#fff"/>
<circle cx="542.4" cy="608.4" r="9.3" fill="#fff" stroke="#5b32c4" stroke-width="1.3"/>
<path d="M537.3 604.8l4.6 3.6h6.6M545.4 605.1999999999999l3.3 3.2-3.3 3.3M537.3 612.6l2.4-2.2" fill="none" stroke="#5b32c4" stroke-width="1.5" stroke-linecap="round" stroke-linejoin="round"/>
<circle cx="666.3" cy="608.4" r="10.6" fill="#fff"/>
<circle cx="666.3" cy="608.4" r="9.3" fill="#fff" stroke="#5b32c4" stroke-width="1.3"/>
<path d="M661.1999999999999 604.8l4.6 3.6h6.6M669.3 605.1999999999999l3.3 3.2-3.3 3.3M661.1999999999999 612.6l2.4-2.2" fill="none" stroke="#5b32c4" stroke-width="1.5" stroke-linecap="round" stroke-linejoin="round"/>
<circle cx="790.5" cy="608.4" r="10.6" fill="#fff"/>
<circle cx="790.5" cy="608.4" r="9.3" fill="#fff" stroke="#5b32c4" stroke-width="1.3"/>
<path d="M785.4 604.8l4.6 3.6h6.6M793.5 605.1999999999999l3.3 3.2-3.3 3.3M785.4 612.6l2.4-2.2" fill="none" stroke="#5b32c4" stroke-width="1.5" stroke-linecap="round" stroke-linejoin="round"/>
<circle cx="920.7" cy="608.4" r="10.6" fill="#fff"/>
<circle cx="920.7" cy="608.4" r="9.3" fill="#fff" stroke="#5b32c4" stroke-width="1.3"/>
<path d="M915.6 604.8l4.6 3.6h6.6M923.7 605.1999999999999l3.3 3.2-3.3 3.3M915.6 612.6l2.4-2.2" fill="none" stroke="#5b32c4" stroke-width="1.5" stroke-linecap="round" stroke-linejoin="round"/>
<circle cx="1045.5" cy="608.4" r="10.6" fill="#fff"/>
<circle cx="1045.5" cy="608.4" r="9.3" fill="#fff" stroke="#5b32c4" stroke-width="1.3"/>
<path d="M1040.4 604.8l4.6 3.6h6.6M1048.5 605.1999999999999l3.3 3.2-3.3 3.3M1040.4 612.6l2.4-2.2" fill="none" stroke="#5b32c4" stroke-width="1.5" stroke-linecap="round" stroke-linejoin="round"/>
<circle cx="1175" cy="608.4" r="10.6" fill="#fff"/>
<circle cx="1175" cy="608.4" r="9.3" fill="#fff" stroke="#5b32c4" stroke-width="1.3"/>
<path d="M1169.9 604.8l4.6 3.6h6.6M1178 605.1999999999999l3.3 3.2-3.3 3.3M1169.9 612.6l2.4-2.2" fill="none" stroke="#5b32c4" stroke-width="1.5" stroke-linecap="round" stroke-linejoin="round"/>
<circle cx="997.5" cy="608.4" r="10.6" fill="#fff"/>
<circle cx="997.5" cy="608.4" r="9.3" fill="#fff" stroke="#8a2da8" stroke-width="1.3"/>
<path d="M1000.1 603.3l-6.4 5.600h3.400l-2.400 4.600 6.600-5.600h-3.400z" fill="#8a2da8"/>
</g>
<g fill="#fff" stroke="#fff" stroke-width="4.600" stroke-linejoin="round"><path d="M68.1 592.3h12.8v14.2h-7v-9.100h-5.800z"/><circle cx="84.800" cy="594.700" r="2.400"/><path d="M89.300 592.300h8l-5.500 14.200h-7.800z"/><text x="104.400" y="606.500" font-size="19.500" font-weight="bold" textLength="121.400" lengthAdjust="spacingAndGlyphs" style="fill:#fff;stroke:#fff">TradingView</text></g>
<g fill="#0a0a0a"><path d="M68.1 592.3h12.8v14.2h-7v-9.100h-5.800z"/><circle cx="84.800" cy="594.700" r="2.400"/><path d="M89.300 592.300h8l-5.500 14.200h-7.800z"/><text x="104.400" y="606.500" font-size="19.500" font-weight="bold" textLength="121.400" lengthAdjust="spacingAndGlyphs" style="fill:#0a0a0a">TradingView</text></g>
</svg>
</body></html>
